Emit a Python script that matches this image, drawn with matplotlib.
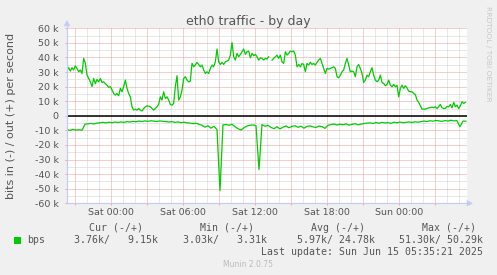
import numpy as np
import matplotlib
matplotlib.use("Agg")
import matplotlib.pyplot as plt
from matplotlib.ticker import MultipleLocator, FuncFormatter, NullFormatter
from matplotlib.patches import Rectangle, Polygon

W, H = 497, 275

title = "eth0 traffic - by day"
ylabel = "bits in (-) / out (+) per second"
x_tick_hours = [0, 6, 12, 18, 24]
x_tick_labels = ["Sat 00:00", "Sat 06:00", "Sat 12:00", "Sat 18:00", "Sun 00:00"]
y_ticks_k = [60, 50, 40, 30, 20, 10, 0, -10, -20, -30, -40, -50, -60]
y_tick_labels = ["60 k", "50 k", "40 k", "30 k", "20 k", "10 k", "0",
                 "-10 k", "-20 k", "-30 k", "-40 k", "-50 k", "-60 k"]

# time window (hours relative to Sat 00:00)
window_start_h = -3.667
window_end_h = 29.667
out_last_h = 29.53
in_step_h = 0.25

# out (+) traffic, kbit/s
out_kbps = [
    31.4, 33.0, 30.7, 33.0, 31.4, 34.3, 32.5, 30.2, 31.4, 29.0,
    39.4, 36.0, 28.0, 25.6, 23.3, 20.0, 25.6, 22.0, 25.0, 23.3,
    25.6, 22.9, 23.3, 22.0, 21.0, 19.5, 20.0, 17.6, 15.3, 14.2,
    15.3, 13.7, 18.8, 16.5, 20.0, 24.5, 18.8, 15.3, 13.0, 6.2,
    3.9, 4.6, 3.9, 5.0, 3.9, 3.31, 5.0, 6.2, 6.9, 6.6,
    6.2, 5.0, 3.9, 5.0, 6.2, 7.8, 13.0, 10.8, 16.5, 11.9,
    13.0, 10.8, 7.8, 7.3, 8.5, 20.0, 27.5, 10.8, 13.0, 17.6,
    25.6, 26.8, 24.5, 23.3, 23.8, 36.0, 33.6, 34.8, 36.6,
    35.2, 33.6, 34.8, 31.4, 29.0, 30.2, 29.0, 32.5, 34.8, 33.6,
    37.0, 45.8, 37.0, 35.2, 36.6, 35.2, 37.0, 37.5, 38.2, 41.6,
    50.29, 40.5, 38.2, 42.8, 40.5, 42.1, 43.9, 45.8, 42.1, 43.9,
    44.4, 39.8, 42.8, 41.2, 42.1, 40.5, 38.2, 39.8, 39.4, 38.2,
    39.4, 38.9, 40.5, np.nan, 38.2, 39.4, 40.5, 41.6, 39.4, 41.6,
    37.0, 35.9, 43.9, 41.6, 42.8, 44.4, 43.9, 44.4, 41.6, 33.6,
    35.2, 33.6, 35.9, 35.2, 30.2, 35.9, 34.8, 36.6, 35.2, 35.9,
    34.8, 36.6, 38.2, 39.4, 35.9, 32.5, 29.0, 32.5, 32.0, 32.5,
    33.0,
    33.6, 32.5, 26.8, 26.1, 27.9, 30.2, 31.4, 36.0, 39.4, 34.8,
    30.2, 30.7, 30.2, 26.8, 33.6, 35.2, 32.5, 29.0, 22.9, 24.5,
    27.9, 26.8, 30.2, 33.0, 27.9, 24.5, 23.3, 24.5, 27.9, 22.9,
    22.2, 20.6, 21.5, 24.5, 21.0, 19.9, 21.5, 19.9, 21.0, 13.0,
    18.8, 21.0, 18.8, 20.6, 19.2, 16.9, 16.5, 16.5, 15.3, 14.6,
    10.8, 9.2, 6.9, 4.6, 4.6, 4.6, 5.0, 5.5, 5.5, 6.0,
    5.5, 6.2, 5.0, 6.2, 7.8, 5.5, 5.0, 5.0, 6.4, 6.2,
    7.8, 5.5, 9.2, 6.2, 7.3, 5.0, 6.9, 9.6, 8.5, 9.15,
]

# in (-) traffic magnitude, kbit/s
in_kbps = [
    9.5, 10.0, 9.3, 9.8, 9.6, 9.9,
    5.8,
    5.5, 5.2, 5.6, 5.0,
    4.8, 4.5, 4.9, 4.4, 4.7, 4.3, 4.6, 4.2, 4.5, 4.0, 4.3,
    3.8, 4.1, 3.6, 3.9, 3.5, 3.8, 3.4, 3.7, 3.9, 3.5, 3.8, 4.0,
    4.3, 4.0, 4.5, 4.2, 4.7, 4.4, 4.8,
    5.0, 5.4, 5.1, 5.8,
    6.5, 7.8, 6.8, 8.5, 7.2, 9.5,
    51.3,
    6.2,
    6.0, 6.5, 5.8,
    7.5, 8.8, 9.8, 8.2, 7.0,
    6.5, 6.2, 6.8,
    36.8,
    6.0, 7.2, 6.5,
    8.0, 8.8, 7.5, 9.0,
    7.8, 7.0, 8.2, 7.2, 6.8, 7.9, 7.1, 8.5, 7.3, 6.9, 7.6, 8.0, 7.0, 7.4, 8.6,
    6.5, 6.0, 5.6, 6.3, 5.8, 6.1, 5.5, 6.4, 5.9, 5.4, 6.2, 5.7, 5.3,
    5.0, 4.8, 5.3, 4.6, 5.1, 4.5, 4.9, 4.7, 5.2, 4.4, 4.8, 4.3, 4.7, 4.5, 4.2, 4.6, 4.1, 4.4, 4.0,
    3.6, 3.9, 3.4, 3.7, 3.2, 3.5, 3.8, 3.3, 3.6, 3.03, 3.5, 3.3, 7.5, 3.6, 3.76,
]

legend_label = "bps"
stat_headers = ["Cur (-/+)", "Min (-/+)", "Avg (-/+)", "Max (-/+)"]
stat_values = ["3.76k/   9.15k", "3.03k/   3.31k", "5.97k/ 24.78k", "51.30k/ 50.29k"]
last_update = "Last update: Sun Jun 15 05:35:21 2025"
footer = "Munin 2.0.75"
side_text = "RRDTOOL / TOBI OETIKER"

# ---------------------------------------------------------------
TXT = "#555555"
GREEN = "#00CC00"
AXC = "#C4CCF4"


def fx(x):
    return x / W


def fy(y):
    return 1 - y / H


fig = plt.figure(figsize=(W / 100, H / 100), dpi=100, facecolor="#F0F0F0")
ax = fig.add_axes([fx(67), fy(203.3), 400 / W, 175 / H])
ax.set_facecolor("white")

out_t = np.linspace(window_start_h, out_last_h, len(out_kbps))
in_t = window_start_h + in_step_h * np.arange(len(in_kbps))

ax.set_xlim(window_start_h, window_end_h)
ax.set_ylim(-60000, 60000)

# grid
ax.xaxis.set_minor_locator(MultipleLocator(1))
ax.xaxis.set_major_locator(MultipleLocator(3))
lab_map = dict(zip(x_tick_hours, x_tick_labels))
ax.xaxis.set_major_formatter(FuncFormatter(lambda v, p: lab_map.get(int(round(v)), "")))
ax.xaxis.set_minor_formatter(NullFormatter())
ax.set_yticks(np.array(y_ticks_k) * 1000)
ax.set_yticklabels(y_tick_labels)
ax.yaxis.set_minor_locator(MultipleLocator(5000))

ax.grid(which="minor", color="#D0D0D0", linestyle=(0, (1, 1)), linewidth=0.72)
ax.grid(which="major", color="#EE9C9C", linestyle=(0, (1, 1)), linewidth=0.72)
ax.set_axisbelow(True)

ax.tick_params(which="major", length=1.6, width=0.72, color="#F0A4A4",
               labelsize=6.8, labelcolor=TXT)
ax.tick_params(axis="y", which="major", pad=4.3)
ax.tick_params(axis="x", which="major", pad=1.6)
ax.tick_params(which="minor", length=0)

for s in ["top", "right"]:
    ax.spines[s].set_visible(False)
for s in ["left", "bottom"]:
    ax.spines[s].set_color(AXC)
    ax.spines[s].set_linewidth(0.8)

# data
ax.axhline(0, color="black", linewidth=1.1, zorder=3)
ax.plot(out_t, np.array(out_kbps) * 1000, color=GREEN, linewidth=0.9, zorder=4)
ax.plot(in_t, -np.array(in_kbps) * 1000, color=GREEN, linewidth=0.9, zorder=4)

# axis arrows
fig.add_artist(plt.Line2D([fx(67), fx(67)], [fy(203.3), fy(24)], color=AXC,
                          linewidth=0.8, transform=fig.transFigure))
fig.add_artist(plt.Line2D([fx(67), fx(470)], [fy(203.3), fy(203.3)], color=AXC,
                          linewidth=0.8, transform=fig.transFigure))
fig.add_artist(Polygon([[fx(64), fy(26)], [fx(70), fy(26)], [fx(67), fy(20.5)]],
                       closed=True, facecolor=AXC, edgecolor=AXC, linewidth=0.3,
                       transform=fig.transFigure))
fig.add_artist(Polygon([[fx(467), fy(200.3)], [fx(467), fy(206.3)], [fx(472.5), fy(203.3)]],
                       closed=True, facecolor=AXC, edgecolor=AXC, linewidth=0.3,
                       transform=fig.transFigure))

# texts
fig.text(fx(248.5), fy(24.5), title, ha="center", va="baseline", fontsize=9,
         color=TXT, family="DejaVu Sans")
fig.text(fx(11), fy(115.5), ylabel, ha="center", va="center", rotation=90,
         fontsize=8, color=TXT, family="DejaVu Sans")
fig.text(fx(487.7), fy(53.5), side_text, ha="center", va="center", rotation=270,
         fontsize=5.4, color="#C8C8C8", family="DejaVu Sans")

mono = "DejaVu Sans Mono"
fs = 7.15
header_right = [143, 254, 365, 476]
value_right = [158, 267, 375, 483]
for hdr, xr in zip(stat_headers, header_right):
    fig.text(fx(xr), fy(230.7), hdr, ha="right", va="baseline", fontsize=fs,
             color=TXT, family=mono)
for val, xr in zip(stat_values, value_right):
    fig.text(fx(xr), fy(243.3), val, ha="right", va="baseline", fontsize=fs,
             color=TXT, family=mono)
fig.add_artist(Rectangle((fx(14), fy(243.5)), 6.5 / W, 6.5 / H, facecolor=GREEN,
                         edgecolor="none", transform=fig.transFigure))
fig.text(fx(27), fy(243.3), legend_label, ha="left", va="baseline", fontsize=fs,
         color=TXT, family=mono)
fig.text(fx(483), fy(255), last_update, ha="right", va="baseline", fontsize=fs,
         color=TXT, family=mono)
fig.text(fx(248), fy(266.7), footer, ha="center", va="baseline", fontsize=5.5,
         color="#BBBBBB", family="DejaVu Sans")

fig.savefig("out.png", dpi=100, facecolor=fig.get_facecolor())
